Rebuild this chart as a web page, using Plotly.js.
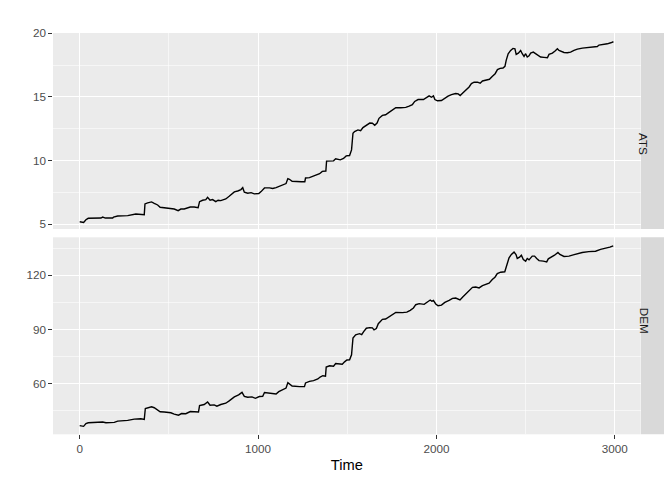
<!DOCTYPE html>
<html>
<head>
<meta charset="utf-8">
<script src="https://cdn.plot.ly/plotly-3.0.1.min.js"></script>
<style>
  html, body { margin: 0; padding: 0; background: #fff; }
  #chart { width: 672px; height: 480px; }
</style>
</head>
<body>
<div id="chart"></div>
<script>
// ATS series
const atsTime = [0, 22, 35, 48, 119, 129, 144, 185, 190, 213, 269, 297, 315, 362, 366, 381, 403, 418, 437, 451,
  474, 511, 530, 552, 567, 586, 605, 620, 642, 664, 672, 689, 707, 717, 731, 745, 763, 776, 791, 819,
  838, 851, 867, 886, 904, 914, 923, 942, 961, 979, 1004, 1017, 1036, 1064, 1082, 1101, 1120, 1139, 1157, 1167,
  1176, 1191, 1213, 1242, 1262, 1266, 1288, 1307, 1326, 1345, 1360, 1380, 1384, 1401, 1423, 1435, 1448, 1461, 1479, 1494,
  1513, 1524, 1532, 1541, 1560, 1575, 1588, 1607, 1626, 1641, 1654, 1667, 1678, 1697, 1715, 1734, 1772, 1800, 1828, 1847,
  1865, 1878, 1897, 1927, 1946, 1959, 1972, 1983, 1991, 2006, 2028, 2047, 2065, 2084, 2108, 2122, 2133, 2146, 2165, 2183,
  2196, 2211, 2230, 2245, 2258, 2277, 2297, 2314, 2329, 2342, 2357, 2373, 2384, 2391, 2402, 2416, 2429, 2440, 2447, 2459,
  2472, 2481, 2491, 2500, 2509, 2519, 2528, 2543, 2556, 2571, 2584, 2603, 2622, 2631, 2650, 2665, 2678, 2687, 2696, 2715,
  2734, 2752, 2771, 2790, 2818, 2846, 2874, 2902, 2911, 2939, 2958, 2977, 2992];
const atsValue = [5.18, 5.13, 5.34, 5.45, 5.47, 5.55, 5.47, 5.47, 5.55, 5.63, 5.66, 5.76, 5.79, 5.74, 6.58, 6.66, 6.74, 6.63, 6.50, 6.32,
  6.29, 6.26, 6.18, 6.05, 6.18, 6.18, 6.26, 6.34, 6.34, 6.29, 6.76, 6.87, 6.92, 7.10, 6.87, 6.92, 6.76, 6.87, 6.84, 6.97,
  7.18, 7.37, 7.53, 7.60, 7.71, 7.86, 7.50, 7.42, 7.47, 7.37, 7.40, 7.55, 7.84, 7.84, 7.79, 7.86, 7.97, 8.05, 8.18, 8.57,
  8.52, 8.36, 8.33, 8.33, 8.33, 8.62, 8.65, 8.75, 8.85, 8.96, 9.14, 9.17, 9.95, 9.97, 9.97, 10.13, 10.10, 10.05, 10.16, 10.36,
  10.39, 10.83, 12.14, 12.27, 12.40, 12.34, 12.58, 12.79, 12.94, 12.92, 12.76, 12.94, 13.31, 13.54, 13.59, 13.78, 14.14, 14.14, 14.17, 14.27,
  14.38, 14.64, 14.79, 14.79, 14.95, 15.08, 14.97, 15.08, 14.79, 14.69, 14.71, 14.90, 15.05, 15.18, 15.26, 15.23, 15.10, 15.29, 15.52, 15.78,
  16.04, 16.15, 16.15, 16.07, 16.25, 16.33, 16.38, 16.61, 16.82, 17.14, 17.24, 17.27, 17.40, 17.87, 18.39, 18.65, 18.81, 18.78, 18.34, 18.44,
  18.65, 18.39, 18.18, 18.39, 18.13, 18.23, 18.44, 18.52, 18.39, 18.20, 18.13, 18.10, 18.07, 18.34, 18.44, 18.60, 18.78, 18.65, 18.60, 18.49,
  18.47, 18.52, 18.65, 18.75, 18.83, 18.88, 18.91, 18.96, 19.07, 19.12, 19.17, 19.25, 19.33];

// DEM series
const demTime = [0, 22, 35, 48, 129, 147, 194, 213, 269, 306, 343, 362, 368, 381, 403, 418, 433, 451, 474, 511,
  530, 554, 571, 595, 620, 642, 666, 672, 698, 717, 731, 754, 769, 791, 819, 838, 862, 867, 891, 910,
  923, 942, 966, 985, 1007, 1026, 1036, 1064, 1082, 1101, 1116, 1139, 1157, 1167, 1176, 1191, 1232, 1260, 1266, 1288,
  1311, 1335, 1348, 1363, 1378, 1382, 1401, 1423, 1435, 1453, 1472, 1485, 1498, 1513, 1524, 1532, 1547, 1569, 1581, 1592,
  1607, 1626, 1641, 1650, 1663, 1674, 1697, 1715, 1734, 1772, 1810, 1834, 1853, 1871, 1884, 1903, 1931, 1953, 1965, 1974,
  1983, 1996, 2009, 2028, 2047, 2071, 2090, 2108, 2121, 2132, 2146, 2170, 2188, 2202, 2220, 2239, 2258, 2276, 2295, 2313,
  2328, 2341, 2360, 2383, 2394, 2407, 2420, 2435, 2446, 2453, 2466, 2476, 2487, 2500, 2509, 2519, 2537, 2550, 2562, 2575,
  2599, 2618, 2627, 2646, 2662, 2681, 2692, 2715, 2743, 2767, 2789, 2817, 2854, 2892, 2920, 2948, 2972, 2991];
const demValue = [36.8, 36.4, 37.9, 38.4, 38.8, 38.4, 38.6, 39.3, 39.7, 40.4, 40.6, 40.2, 46.3, 46.5, 47.2, 46.7, 45.9, 44.5, 44.3, 43.9,
  43.2, 42.6, 43.5, 43.4, 44.6, 44.6, 44.3, 47.9, 48.5, 49.9, 48.1, 48.3, 47.6, 48.5, 49.2, 50.5, 52.3, 52.7, 53.8, 55.2,
  53.0, 52.5, 52.7, 51.9, 52.9, 53.0, 55.1, 54.9, 54.7, 54.3, 55.6, 56.5, 57.6, 60.6, 60.0, 58.7, 58.4, 58.4, 60.4, 61.3,
  61.7, 62.6, 63.7, 64.4, 64.2, 69.2, 69.9, 69.7, 71.2, 71.0, 70.8, 72.1, 73.1, 73.2, 76.0, 85.2, 87.0, 87.7, 87.2, 88.8,
  90.7, 91.0, 90.9, 89.8, 90.5, 93.2, 95.6, 95.8, 97.1, 99.4, 99.3, 99.6, 100.6, 101.9, 103.7, 104.3, 103.9, 105.6, 106.3, 105.6,
  106.1, 104.1, 103.1, 103.5, 105.0, 106.1, 107.2, 107.4, 107.0, 106.3, 107.8, 110.2, 112.0, 113.3, 113.5, 113.0, 114.3, 115.0, 115.6, 117.6,
  118.9, 120.9, 121.7, 121.9, 125.0, 129.6, 131.5, 132.8, 131.5, 129.3, 130.0, 131.1, 128.7, 127.8, 129.3, 128.5, 130.6, 130.6, 129.3, 128.1,
  127.8, 127.4, 129.1, 130.0, 131.1, 132.6, 131.5, 130.4, 130.6, 131.3, 132.0, 132.6, 133.1, 133.3, 134.3, 134.8, 135.6, 136.3];

const panelLabels = ['ATS', 'DEM'];
const xTicks = [0, 1000, 2000, 3000];
const atsTicks = [5, 10, 15, 20];
const demTicks = [60, 90, 120];

const font = 'Liberation Sans, Arial, sans-serif';
const W = 672, H = 480;
const px = v => v / W, py = v => 1 - v / H;

const traces = [
  { x: atsTime, y: atsValue, xaxis: 'x', yaxis: 'y', type: 'scatter', mode: 'lines',
    line: { color: '#000000', width: 1.4 }, hoverinfo: 'x+y', showlegend: false },
  { x: demTime, y: demValue, xaxis: 'x2', yaxis: 'y2', type: 'scatter', mode: 'lines',
    line: { color: '#000000', width: 1.4 }, hoverinfo: 'x+y', showlegend: false }
];

function xAxis(showLabels, anchor) {
  return {
    domain: [px(53), px(640.7)], range: [-149.6, 3145], anchor: anchor,
    tickvals: xTicks, ticktext: xTicks.map(String),
    showticklabels: showLabels, ticks: showLabels ? 'outside' : '',
    ticklen: 3.7, tickwidth: 1.07, tickcolor: '#333333',
    tickfont: { family: font, size: 11.7, color: '#4D4D4D' },
    showgrid: true, gridcolor: '#FFFFFF', gridwidth: 1.07,
    minor: { dtick: 500, tick0: 500, showgrid: true, gridcolor: '#FFFFFF', gridwidth: 0.55, ticks: '' },
    zeroline: false, showline: false, fixedrange: true
  };
}
function yAxis(dom, rng, ticks, minorStep, anchor) {
  return {
    domain: dom, range: rng, anchor: anchor,
    tickvals: ticks, ticktext: ticks.map(String),
    ticks: 'outside', ticklen: 3.7, tickwidth: 1.07, tickcolor: '#333333',
    tickfont: { family: font, size: 11.7, color: '#4D4D4D' },
    showgrid: true, gridcolor: '#FFFFFF', gridwidth: 1.07,
    minor: { dtick: minorStep, tick0: ticks[0] + minorStep / 2, showgrid: true,
             gridcolor: '#FFFFFF', gridwidth: 0.55, ticks: '' },
    zeroline: false, showline: false, fixedrange: true
  };
}

const topDom = [py(229), py(33)];
const botDom = [py(434.3), py(237.3)];

const bottomX = xAxis(true, 'y2');
bottomX.matches = 'x';
bottomX.title = { text: 'Time', font: { family: font, size: 14.7, color: '#000000' }, standoff: 5 };

const layout = {
  width: W, height: H,
  margin: { l: 0, r: 0, t: 0, b: 0 },
  paper_bgcolor: '#FFFFFF', plot_bgcolor: '#EBEBEB',
  font: { family: font },
  xaxis: xAxis(false, 'y'),
  xaxis2: bottomX,
  yaxis: yAxis(topDom, [4.61, 20.02], atsTicks, 5, 'x'),
  yaxis2: yAxis(botDom, [32.0, 141.0], demTicks, 30, 'x2'),
  shapes: [
    { type: 'rect', xref: 'paper', yref: 'paper', x0: px(641), x1: px(664), y0: topDom[0], y1: topDom[1],
      fillcolor: '#D9D9D9', line: { width: 0 }, layer: 'below' },
    { type: 'rect', xref: 'paper', yref: 'paper', x0: px(641), x1: px(664), y0: botDom[0], y1: botDom[1],
      fillcolor: '#D9D9D9', line: { width: 0 }, layer: 'below' }
  ],
  annotations: [
    { text: panelLabels[0], xref: 'paper', yref: 'paper', x: px(652.5), y: (topDom[0] + topDom[1]) / 2,
      showarrow: false, textangle: 90, font: { family: font, size: 11.7, color: '#1A1A1A' } },
    { text: panelLabels[1], xref: 'paper', yref: 'paper', x: px(652.5), y: (botDom[0] + botDom[1]) / 2,
      showarrow: false, textangle: 90, font: { family: font, size: 11.7, color: '#1A1A1A' } }
  ]
};

Plotly.newPlot('chart', traces, layout, { displayModeBar: false, staticPlot: true });
</script>
</body>
</html>
